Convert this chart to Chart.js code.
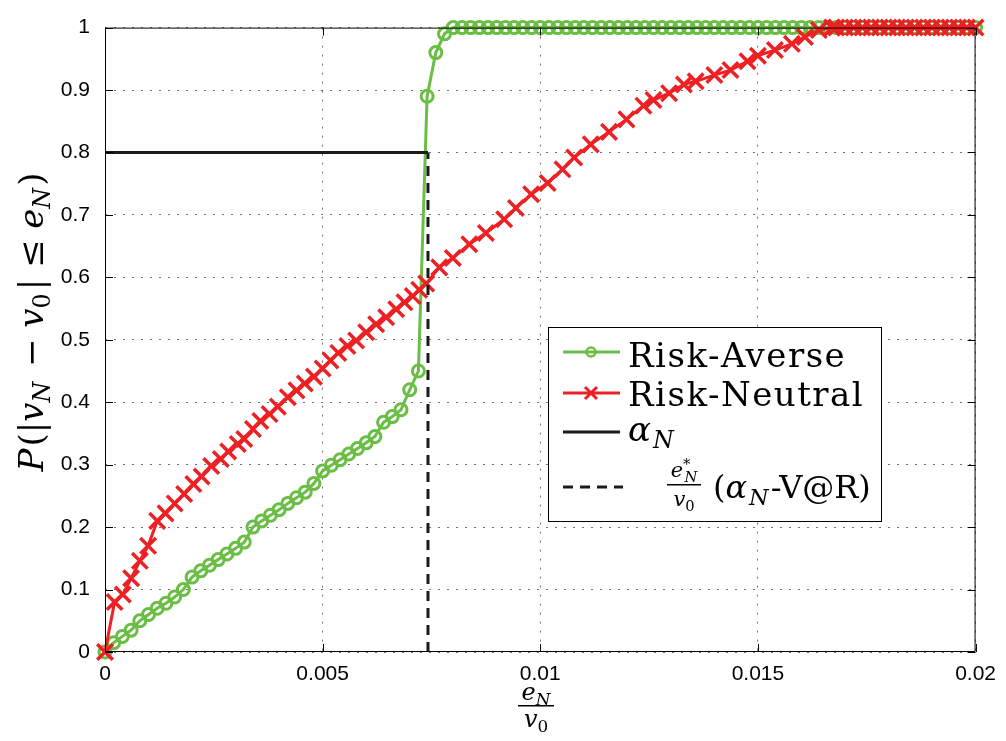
<!DOCTYPE html>
<html>
<head>
<meta charset="utf-8">
<script src="https://cdn.jsdelivr.net/npm/chart.js@4.4.0/dist/chart.umd.min.js"></script>
<style>
html, body { margin: 0; padding: 0; background: #fff; }
</style>
</head>
<body>
<canvas id="myChart" width="1006" height="741"></canvas>
<script>
// axis ticks
const xTicks = [0, 0.005, 0.01, 0.015, 0.02]
const yTicks = [0, 0.1, 0.2, 0.3, 0.4, 0.5, 0.6, 0.7, 0.8, 0.9, 1]

// risk-averse: one point every 0.0002 from 0 to 0.02
const averseStep = 0.0002
const averseP = [
  0, 0.015, 0.025, 0.035, 0.05, 0.06, 0.07, 0.078, 0.088, 0.1,
  0.12, 0.13, 0.139, 0.148, 0.157, 0.166, 0.176, 0.2, 0.21, 0.219,
  0.228, 0.238, 0.247, 0.256, 0.27, 0.29, 0.299, 0.308, 0.317, 0.326,
  0.335, 0.345, 0.368, 0.377, 0.388, 0.42, 0.45, 0.89, 0.96, 0.99,
  1, 1, 1, 1, 1, 1, 1, 1, 1, 1,
  1, 1, 1, 1, 1, 1, 1, 1, 1, 1,
  1, 1, 1, 1, 1, 1, 1, 1, 1, 1,
  1, 1, 1, 1, 1, 1, 1, 1, 1, 1,
  1, 1, 1, 1, 1, 1, 1, 1, 1, 1,
  1, 1, 1, 1, 1, 1, 1, 1, 1, 1,
  1
]

// risk-neutral: points read one by one
const neutralE = [
  0, 0.00022, 0.00041, 0.0006, 0.0008, 0.00099, 0.0012, 0.00139, 0.0016, 0.00182,
  0.00203, 0.00222, 0.00244, 0.00266, 0.00283, 0.00305, 0.0032, 0.0034, 0.00357, 0.00378,
  0.00397, 0.0042, 0.0044, 0.00459, 0.0048, 0.005, 0.00518, 0.00536, 0.00557, 0.00577,
  0.006, 0.00623, 0.00646, 0.00669, 0.00688, 0.00707, 0.00722, 0.00738, 0.00768, 0.00799,
  0.00837, 0.00875, 0.00917, 0.00944, 0.00979, 0.01017, 0.01051, 0.01078, 0.01116, 0.01158,
  0.01198, 0.01237, 0.0126, 0.01296, 0.0133, 0.01357, 0.014, 0.01437, 0.01476, 0.015,
  0.01539, 0.01578, 0.01608, 0.0164, 0.0167, 0.0168, 0.017, 0.0172, 0.0174, 0.0176,
  0.0178, 0.018, 0.0182, 0.0184, 0.0186, 0.0188, 0.019, 0.0192, 0.0194, 0.0196,
  0.0198, 0.02
]
const neutralP = [
  0, 0.08, 0.092, 0.118, 0.146, 0.17, 0.21, 0.222, 0.238, 0.253,
  0.269, 0.281, 0.298, 0.309, 0.321, 0.333, 0.341, 0.357, 0.37, 0.381,
  0.393, 0.408, 0.419, 0.43, 0.441, 0.454, 0.467, 0.479, 0.49, 0.499,
  0.512, 0.525, 0.536, 0.549, 0.56, 0.57, 0.58, 0.59, 0.616, 0.631,
  0.653, 0.671, 0.693, 0.711, 0.733, 0.751, 0.773, 0.792, 0.813, 0.833,
  0.853, 0.875, 0.884, 0.895, 0.909, 0.914, 0.924, 0.932, 0.946, 0.955,
  0.964, 0.974, 0.985, 0.996, 1, 1, 1, 1, 1, 1,
  1, 1, 1, 1, 1, 1, 1, 1, 1, 1,
  1, 1
]

// confidence level and the V@R point
const alphaN = 0.8
const varE = 0.00742

const green = 'rgb(106,190,69)'
const red = 'rgb(237,32,36)'
const black = '#1a1a1a'
const serif = '"DejaVu Serif"'

// draws text made of pieces: [text, style, extra gap], style letters: i italic, s sub, p sup
function richWidth(ctx, parts, size) {
  let w = 0
  parts.forEach(p => {
    const st = p[1] || ''
    const sz = (st.includes('s') || st.includes('p')) ? size * 0.7 : size
    ctx.font = (st.includes('i') ? 'italic ' : '') + sz + 'px ' + serif
    w += ctx.measureText(p[0]).width + (p[2] || 0)
  })
  return w
}

function drawRich(ctx, parts, x, y, size, align) {
  let w = richWidth(ctx, parts, size)
  let cx = align === 'center' ? x - w / 2 : x
  ctx.textBaseline = 'alphabetic'
  ctx.textAlign = 'left'
  ctx.fillStyle = '#000'
  parts.forEach(p => {
    const st = p[1] || ''
    let sz = size, dy = 0
    if (st.includes('s')) { sz = size * 0.7; dy = size * 0.22 }
    if (st.includes('p')) { sz = size * 0.7; dy = -size * 0.38 }
    ctx.font = (st.includes('i') ? 'italic ' : '') + sz + 'px ' + serif
    ctx.fillText(p[0], cx, y + dy)
    cx += ctx.measureText(p[0]).width + (p[2] || 0)
  })
  return w
}

// box, inward tick marks, axis labels and legend
const framePlugin = {
  id: 'frame',
  afterDatasetsDraw(chart) {
    const ctx = chart.ctx
    const a = chart.chartArea
    const xs = chart.scales.x, ys = chart.scales.y
    ctx.save()
    ctx.strokeStyle = '#000'
    ctx.lineWidth = 1
    ctx.beginPath()
    ctx.rect(a.left + 0.5, a.top + 0.5, a.right - a.left - 1, a.bottom - a.top - 1)
    xTicks.forEach(v => {
      const px = Math.round(xs.getPixelForValue(v)) + 0.5
      ctx.moveTo(px, a.bottom); ctx.lineTo(px, a.bottom - 8)
      ctx.moveTo(px, a.top); ctx.lineTo(px, a.top + 8)
    })
    yTicks.forEach(v => {
      const py = Math.round(ys.getPixelForValue(v)) + 0.5
      ctx.moveTo(a.left, py); ctx.lineTo(a.left + 8, py)
      ctx.moveTo(a.right, py); ctx.lineTo(a.right - 8, py)
    })
    ctx.stroke()
    ctx.restore()
  },
  afterDraw(chart) {
    const ctx = chart.ctx
    ctx.save()
    // y label
    ctx.translate(43, 322)
    ctx.rotate(-Math.PI / 2)
    drawRich(ctx, [['P', 'i', 2], ['(|', ''], ['v', 'i'], ['N', 'is', 4], [' \u2212 ', ''], ['v', 'i'], ['0', 's', 3], ['| \u2264 ', ''], ['e', 'i'], ['N', 'is', 2], [')', '']], 0, 0, 34, 'center')
    ctx.restore()

    // x label as a fraction
    ctx.save()
    const fx = 536
    drawRich(ctx, [['e', 'i'], ['N', 'is']], fx, 700, 24, 'center')
    ctx.fillStyle = '#000'
    ctx.fillRect(fx - 18, 705, 36, 1.5)
    drawRich(ctx, [['v', 'i'], ['0', 's']], fx, 727, 24, 'center')
    ctx.restore()

    // legend
    ctx.save()
    const L = { x: 548, y: 327, w: 333, h: 194 }
    ctx.fillStyle = '#fff'
    ctx.fillRect(L.x, L.y, L.w, L.h)
    ctx.strokeStyle = '#000'
    ctx.lineWidth = 1
    ctx.strokeRect(L.x + 0.5, L.y + 0.5, L.w, L.h)
    ctx.lineWidth = 3
    const sx0 = 563, sx1 = 620, mx = 591
    // green
    ctx.strokeStyle = green
    ctx.beginPath(); ctx.moveTo(sx0, 352); ctx.lineTo(sx1, 352); ctx.stroke()
    ctx.lineWidth = 2.5
    ctx.beginPath(); ctx.arc(mx, 352, 4.5, 0, Math.PI * 2); ctx.stroke()
    // red
    ctx.lineWidth = 3
    ctx.strokeStyle = red
    ctx.beginPath(); ctx.moveTo(sx0, 393); ctx.lineTo(sx1, 393); ctx.stroke()
    ctx.beginPath()
    ctx.moveTo(mx - 6, 387); ctx.lineTo(mx + 6, 399)
    ctx.moveTo(mx + 6, 387); ctx.lineTo(mx - 6, 399)
    ctx.stroke()
    // alpha
    ctx.strokeStyle = black
    ctx.beginPath(); ctx.moveTo(sx0, 432); ctx.lineTo(sx1, 432); ctx.stroke()
    // dashed
    ctx.setLineDash([10, 7])
    ctx.beginPath(); ctx.moveTo(sx0, 487); ctx.lineTo(sx1 + 3, 487); ctx.stroke()
    ctx.setLineDash([])

    const fs = 34
    ctx.letterSpacing = '1.5px'
    drawRich(ctx, [['Risk-Averse', '']], 628, 367, fs, 'left')
    drawRich(ctx, [['Risk-Neutral', '']], 628, 406, fs, 'left')
    ctx.letterSpacing = '0px'
    drawRich(ctx, [['\u03b1', 'i', 2], ['N', 'is']], 628, 441, fs, 'left')
    // small fraction
    const gx = 684
    drawRich(ctx, [['e', 'i'], ['*', 'p', -6], ['N', 'is']], gx, 477, 21, 'center')
    ctx.fillStyle = '#000'
    ctx.fillRect(gx - 17, 484, 34, 1.5)
    drawRich(ctx, [['v', 'i'], ['0', 's']], gx, 506, 21, 'center')
    drawRich(ctx, [['(', ''], ['\u03b1', 'i', 2], ['N', 'is', 2], ['-V@R)', '']], 713, 498, 32, 'left')
    ctx.restore()
  }
}

const ctx = document.getElementById('myChart')
new Chart(ctx, {
  type: 'line',
  data: {
    datasets: [
      {
        label: 'alpha',
        data: [{ x: 0, y: alphaN }, { x: varE, y: alphaN }],
        borderColor: black, borderWidth: 3, pointRadius: 0, order: 0, clip: false
      },
      {
        label: 'var',
        data: [{ x: varE, y: 0 }, { x: varE, y: alphaN }],
        borderColor: black, borderWidth: 3, borderDash: [10, 7], pointRadius: 0, order: 0, clip: false
      },
      {
        label: 'Risk-Neutral',
        data: neutralE.map((e, i) => ({ x: e, y: neutralP[i] })),
        borderColor: red, borderWidth: 3,
        pointStyle: 'crossRot', pointRadius: 11, pointBorderWidth: 3.5,
        pointBorderColor: red, pointBackgroundColor: red,
        order: 1, clip: false
      },
      {
        label: 'Risk-Averse',
        data: averseP.map((p, i) => ({ x: i * averseStep, y: p })),
        borderColor: green, borderWidth: 3,
        pointStyle: 'circle', pointRadius: 6, pointBorderWidth: 3,
        pointBorderColor: green, pointBackgroundColor: 'rgba(0,0,0,0)',
        order: 2, clip: false
      }
    ]
  },
  options: {
    responsive: false,
    animation: false,
    layout: { padding: { top: 26, right: 29, left: 0, bottom: 0 } },
    plugins: { legend: { display: false }, tooltip: { enabled: false } },
    scales: {
      x: {
        type: 'linear', min: 0, max: 0.02,
        afterBuildTicks: s => { s.ticks = xTicks.map(v => ({ value: v })) },
        afterFit: s => { s.height = 89 },
        ticks: { color: '#000', padding: 10, font: { family: 'Liberation Sans', size: 21 }, callback: v => String(v) },
        grid: { color: 'rgba(0,0,0,0.55)', lineWidth: 1, drawTicks: false },
        border: { display: false, dash: [2, 7] }
      },
      y: {
        min: 0, max: 1,
        afterBuildTicks: s => { s.ticks = yTicks.map(v => ({ value: v })) },
        afterFit: s => { s.width = 105 },
        ticks: { color: '#000', padding: 15, font: { family: 'Liberation Sans', size: 21 }, callback: v => String(v) },
        grid: { color: 'rgba(0,0,0,0.55)', lineWidth: 1, drawTicks: false },
        border: { display: false, dash: [2, 7] }
      }
    }
  },
  plugins: [framePlugin]
})
</script>
</body>
</html>
